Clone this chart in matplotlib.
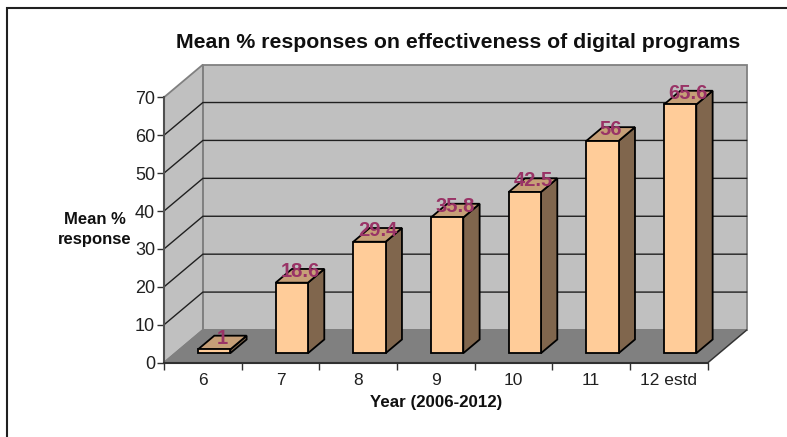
import matplotlib
matplotlib.use("Agg")
import matplotlib.pyplot as plt
from matplotlib.lines import Line2D
from matplotlib.patches import Polygon

plt.rcParams["font.family"] = ["Liberation Sans", "DejaVu Sans"]

CATEGORIES = ["6", "7", "8", "9", "10", "11", "12 estd"]
VALUES = [1, 18.6, 29.4, 35.8, 42.5, 56, 65.6]
VALUE_LABELS = ["1", "18.6", "29.4", "35.8", "42.5", "56", "65.6"]
Y_TICKS = [0, 10, 20, 30, 40, 50, 60, 70]

W, H = 787, 437
# front plane of the 3D box, in pixels
LEFT, RIGHT, BOTTOM, TOP = 164.0, 707.7, 362.7, 97.3
YMAX = 70
# full depth of the box, in data units
DEPTH_X = 38.9 / ((RIGHT - LEFT) / len(CATEGORIES))
DEPTH_Y = 32.7 / ((BOTTOM - TOP) / YMAX)
BAR_WIDTH = 0.416
BAR_D0, BAR_D1 = 0.29, 0.71

WALL = "#c0c0c0"
FLOOR = "#808080"
EDGE = "#808080"
BAR_FRONT = "#ffcc99"
BAR_TOP = "#c69f77"
BAR_SIDE = "#80664d"
LABEL = "#993366"


def proj(x, y, d):
    return (x + d * DEPTH_X, y + d * DEPTH_Y)


def face(ax, pts, color, edge="black", lw=1.3, z=2):
    ax.add_patch(Polygon([proj(*p) for p in pts], closed=True, facecolor=color,
                         edgecolor=edge, linewidth=lw, zorder=z, clip_on=False,
                         joinstyle="miter"))


fig = plt.figure(figsize=(W / 100, H / 100), dpi=100)

# frame: only the top and left edges fall inside the canvas
frame_x = [6.5 / W, 6.5 / W, 1.0]
frame_y = [0.0, 1 - 7.5 / H, 1 - 7.5 / H]
fig.add_artist(Line2D(frame_x, frame_y, color="#202020", lw=1.5, transform=fig.transFigure,
                      solid_joinstyle="miter"))

ax = fig.add_axes([LEFT / W, 1 - BOTTOM / H, (RIGHT - LEFT) / W, (BOTTOM - TOP) / H])
ax.set_xlim(0, len(CATEGORIES))
ax.set_ylim(0, YMAX)
ax.patch.set_visible(False)

n = len(CATEGORIES)
# walls and floor
face(ax, [(0, 0, 1), (n, 0, 1), (n, YMAX, 1), (0, YMAX, 1)], WALL, EDGE, 1.3, 1)
face(ax, [(0, 0, 0), (0, 0, 1), (0, YMAX, 1), (0, YMAX, 0)], WALL, EDGE, 1.3, 1)
face(ax, [(0, 0, 0), (n, 0, 0), (n, 0, 1), (0, 0, 1)], FLOOR, EDGE, 1.3, 1)

# gridlines run along the side wall and the back wall
for t in Y_TICKS[1:-1]:
    xs, ys = zip(proj(0, t, 0), proj(0, t, 1), proj(n, t, 1))
    ax.plot(xs, ys, color="#202020", lw=1.0, zorder=1.5, clip_on=False)
xs, ys = zip(proj(n, 0, 0), proj(n, 0, 1))
ax.plot(xs, ys, color="#303030", lw=0.9, zorder=1.5, clip_on=False)

for i, (v, text) in enumerate(zip(VALUES, VALUE_LABELS)):
    x0 = i + 0.5 - BAR_WIDTH / 2
    x1 = i + 0.5 + BAR_WIDTH / 2
    face(ax, [(x1, 0, BAR_D0), (x1, 0, BAR_D1), (x1, v, BAR_D1), (x1, v, BAR_D0)], BAR_SIDE)
    face(ax, [(x0, v, BAR_D0), (x1, v, BAR_D0), (x1, v, BAR_D1), (x0, v, BAR_D1)], BAR_TOP)
    face(ax, [(x0, 0, BAR_D0), (x1, 0, BAR_D0), (x1, v, BAR_D0), (x0, v, BAR_D0)], BAR_FRONT)
    lx, ly = proj(i + 0.5, v, 0.5)
    ax.text(lx, ly + 1.2, text, color=LABEL, fontsize=14.5, fontweight="bold",
            ha="center", va="center", zorder=5, clip_on=False)

ax.spines["top"].set_visible(False)
ax.spines["right"].set_visible(False)
ax.spines["left"].set_linewidth(1.5)
ax.spines["left"].set_color("#505050")
ax.spines["bottom"].set_linewidth(1.5)
ax.spines["bottom"].set_color("#303030")
for s in ax.spines.values():
    s.set_zorder(4)

ax.set_yticks(Y_TICKS)
ax.tick_params(axis="y", length=5, width=1.0, labelsize=13, pad=1.5, color="#303030",
               labelcolor="#202020")
ax.set_xticks(range(n + 1))
ax.set_xticklabels([])
ax.set_xticks([i + 0.5 for i in range(n)], CATEGORIES, minor=True)
ax.tick_params(axis="x", which="major", length=5, width=1.0, color="#303030")
ax.tick_params(axis="x", which="minor", length=0, labelsize=12.5, pad=7.5, labelcolor="#202020")

fig.text(458.5 / W, 1 - 43 / H, "Mean % responses on effectiveness of digital programs",
         fontsize=15.3, fontweight="bold", ha="center", va="center", color="#101010")
fig.text(94.5 / W, 1 - 229.5 / H, "Mean %\nresponse", fontsize=12, fontweight="bold",
         ha="center", va="center", linespacing=1.36, color="#101010")
fig.text(436 / W, 1 - 403 / H, "Year (2006-2012)", fontsize=12.2, fontweight="bold",
         ha="center", va="center", color="#101010")

fig.savefig("out.png", dpi=100)
